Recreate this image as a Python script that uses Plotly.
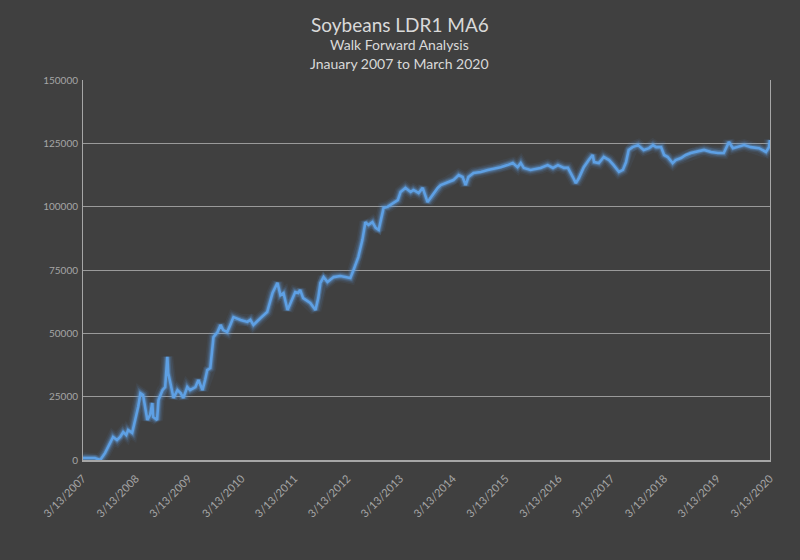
import plotly.graph_objects as go

dates = [
    "2007-03-13", "2007-06-03", "2007-07-10", "2007-08-13", "2007-10-07", "2007-11-03",
    "2007-11-25", "2007-12-16", "2008-01-06", "2008-01-19", "2008-02-16", "2008-03-08",
    "2008-03-28", "2008-04-13", "2008-05-01", "2008-05-31", "2008-06-19", "2008-07-04",
    "2008-07-10", "2008-08-06", "2008-08-16", "2008-09-13", "2008-10-01", "2008-10-16",
    "2008-10-22", "2008-11-06", "2008-11-28", "2008-12-25", "2009-01-16", "2009-02-03",
    "2009-03-03", "2009-03-22", "2009-04-28", "2009-05-19", "2009-06-16", "2009-07-04",
    "2009-07-19", "2009-08-09", "2009-08-31", "2009-09-28", "2009-10-19", "2009-11-06",
    "2009-12-04", "2009-12-25", "2010-01-16", "2010-03-06", "2010-04-22", "2010-05-13",
    "2010-06-03", "2010-07-22", "2010-09-06", "2010-10-13", "2010-11-03", "2010-11-16",
    "2010-12-07", "2010-12-28", "2011-01-25", "2011-02-16", "2011-03-19", "2011-04-09",
    "2011-04-22", "2011-05-13", "2011-07-01", "2011-08-06", "2011-08-25", "2011-09-09",
    "2011-10-01", "2011-10-28", "2011-12-10", "2012-01-25", "2012-04-03", "2012-04-25",
    "2012-05-28", "2012-06-25", "2012-07-16", "2012-08-06", "2012-09-03", "2012-09-25",
    "2012-10-16", "2012-10-28", "2012-11-19", "2012-12-16", "2013-01-22", "2013-02-25",
    "2013-03-16", "2013-04-19", "2013-05-25", "2013-06-13", "2013-07-19", "2013-08-16",
    "2013-09-19", "2013-10-25", "2013-11-28", "2013-12-19", "2014-02-06", "2014-03-16",
    "2014-04-22", "2014-05-19", "2014-06-09", "2014-06-28", "2014-08-03", "2014-09-22",
    "2014-11-09", "2014-12-19", "2015-02-06", "2015-03-25", "2015-05-01", "2015-06-03",
    "2015-06-25", "2015-07-16", "2015-08-31", "2015-11-09", "2015-12-28", "2016-02-03",
    "2016-03-08", "2016-04-19", "2016-05-16", "2016-06-19", "2016-07-10", "2016-07-31",
    "2016-09-03", "2016-10-07", "2016-11-03", "2016-11-13", "2016-12-16", "2017-01-19",
    "2017-02-25", "2017-03-28", "2017-05-04", "2017-05-31", "2017-06-22", "2017-07-10",
    "2017-08-06", "2017-09-13", "2017-10-22", "2017-11-28", "2017-12-25", "2018-01-16",
    "2018-02-19", "2018-03-12", "2018-04-06", "2018-05-10", "2018-05-31", "2018-07-07",
    "2018-08-09", "2018-09-13", "2018-10-19", "2018-12-13", "2019-01-31", "2019-03-19",
    "2019-04-28", "2019-06-03", "2019-07-01", "2019-07-22", "2019-09-16", "2019-11-03",
    "2019-12-28", "2020-02-14", "2020-03-06", "2020-03-13",
]

equity = [
    800, 800, 0, 2800, 9100, 7900,
    9100, 11000, 9900, 11800, 10700, 15800,
    20900, 26400, 25700, 15800, 17800, 22500,
    17000, 15800, 23700, 27600, 28800, 40700,
    34300, 30400, 24500, 27600, 26400, 24500,
    28800, 27600, 28800, 31600, 27600, 31600,
    35500, 36300, 48500, 50500, 53300, 51300,
    50500, 53300, 56400, 55300, 54500, 55300,
    53300, 56000, 58400, 65900, 68300, 69900,
    65100, 65900, 59200, 62400, 66300, 65900,
    67100, 63900, 62000, 59200, 63900, 69900,
    72200, 70300, 72200, 72600, 71800, 75000,
    80100, 86800, 93900, 92800, 93900, 91600,
    90800, 93900, 99500, 99900, 101400, 102600,
    105800, 107400, 105800, 106600, 105400, 107400,
    101800, 104600, 107400, 108500, 109700, 110500,
    112500, 111700, 108500, 111700, 113300, 113700,
    114500, 114900, 115600, 116400, 117200, 115600,
    117200, 115300, 114500, 115300, 116400, 115300,
    116400, 115300, 115300, 111700, 109300, 111300,
    115600, 118400, 120400, 117600, 117200, 119600,
    118400, 116400, 113700, 114500, 117600, 122400,
    123500, 124300, 122400, 123100, 124300, 123500,
    123500, 120400, 119600, 117200, 118400, 119200,
    120400, 121200, 121600, 122400, 121600, 121200,
    121200, 125500, 123100, 123500, 124300, 123500,
    123100, 121600, 123500, 126300,
]

tick_years = list(range(2007, 2021))
tick_dates = [f"{y}-03-13" for y in tick_years]
tick_labels = [f"3/13/{y}" for y in tick_years]
y_ticks = [0, 25000, 50000, 75000, 100000, 125000, 150000]

title = "Soybeans LDR1 MA6"
subtitle1 = "Walk Forward Analysis"
subtitle2 = "Jnauary 2007 to March 2020"

line_color = "rgb(94,160,228)"

fig = go.Figure()
# glow layers
for w, a in [(12, 0.07), (9, 0.12), (6.5, 0.20), (4.5, 0.32)]:
    fig.add_trace(go.Scatter(x=dates, y=equity, mode="lines",
                             line=dict(color=f"rgba(94,160,228,{a})", width=w),
                             hoverinfo="skip", showlegend=False))
fig.add_trace(go.Scatter(x=dates, y=equity, mode="lines",
                         line=dict(color=line_color, width=2.6),
                         showlegend=False))

font_family = "Lato, 'Open Sans', sans-serif"
fig.update_layout(
    width=800, height=560,
    paper_bgcolor="#404040", plot_bgcolor="#404040",
    margin=dict(l=83, r=30, t=80, b=100),
    font=dict(family=font_family, color="#b0b0b0"),
    xaxis=dict(
        type="date",
        range=["2007-03-13", "2020-03-13"],
        tickmode="array", tickvals=tick_dates, ticktext=tick_labels,
        tickangle=-45, tickfont=dict(size=11, color="#a6a6a6"),
        ticklabelstandoff=6,
        showgrid=False, showline=True, linecolor="#a6a6a6", linewidth=2,
        ticks="", zeroline=False,
    ),
    yaxis=dict(
        range=[0, 150000],
        tickmode="array", tickvals=y_ticks, ticktext=[str(v) for v in y_ticks],
        tickfont=dict(size=10, color="#a6a6a6"),
        ticklabelstandoff=2,
        showgrid=True, gridcolor="#9a9a9a", gridwidth=1,
        showline=True, linecolor="#a6a6a6", linewidth=1, mirror=True,
        ticks="", zeroline=False,
    ),
    annotations=[
        dict(text=title, xref="paper", yref="paper", x=0.461, y=1.145,
             xanchor="center", yanchor="middle", showarrow=False,
             font=dict(size=19, color="#d9d9d9", family=font_family)),
        dict(text=subtitle1, xref="paper", yref="paper", x=0.461, y=1.093,
             xanchor="center", yanchor="middle", showarrow=False,
             font=dict(size=14, color="#d9d9d9", family=font_family)),
        dict(text=subtitle2, xref="paper", yref="paper", x=0.461, y=1.044,
             xanchor="center", yanchor="middle", showarrow=False,
             font=dict(size=14, color="#d9d9d9", family=font_family)),
    ],
)

fig.write_html("out.html")
